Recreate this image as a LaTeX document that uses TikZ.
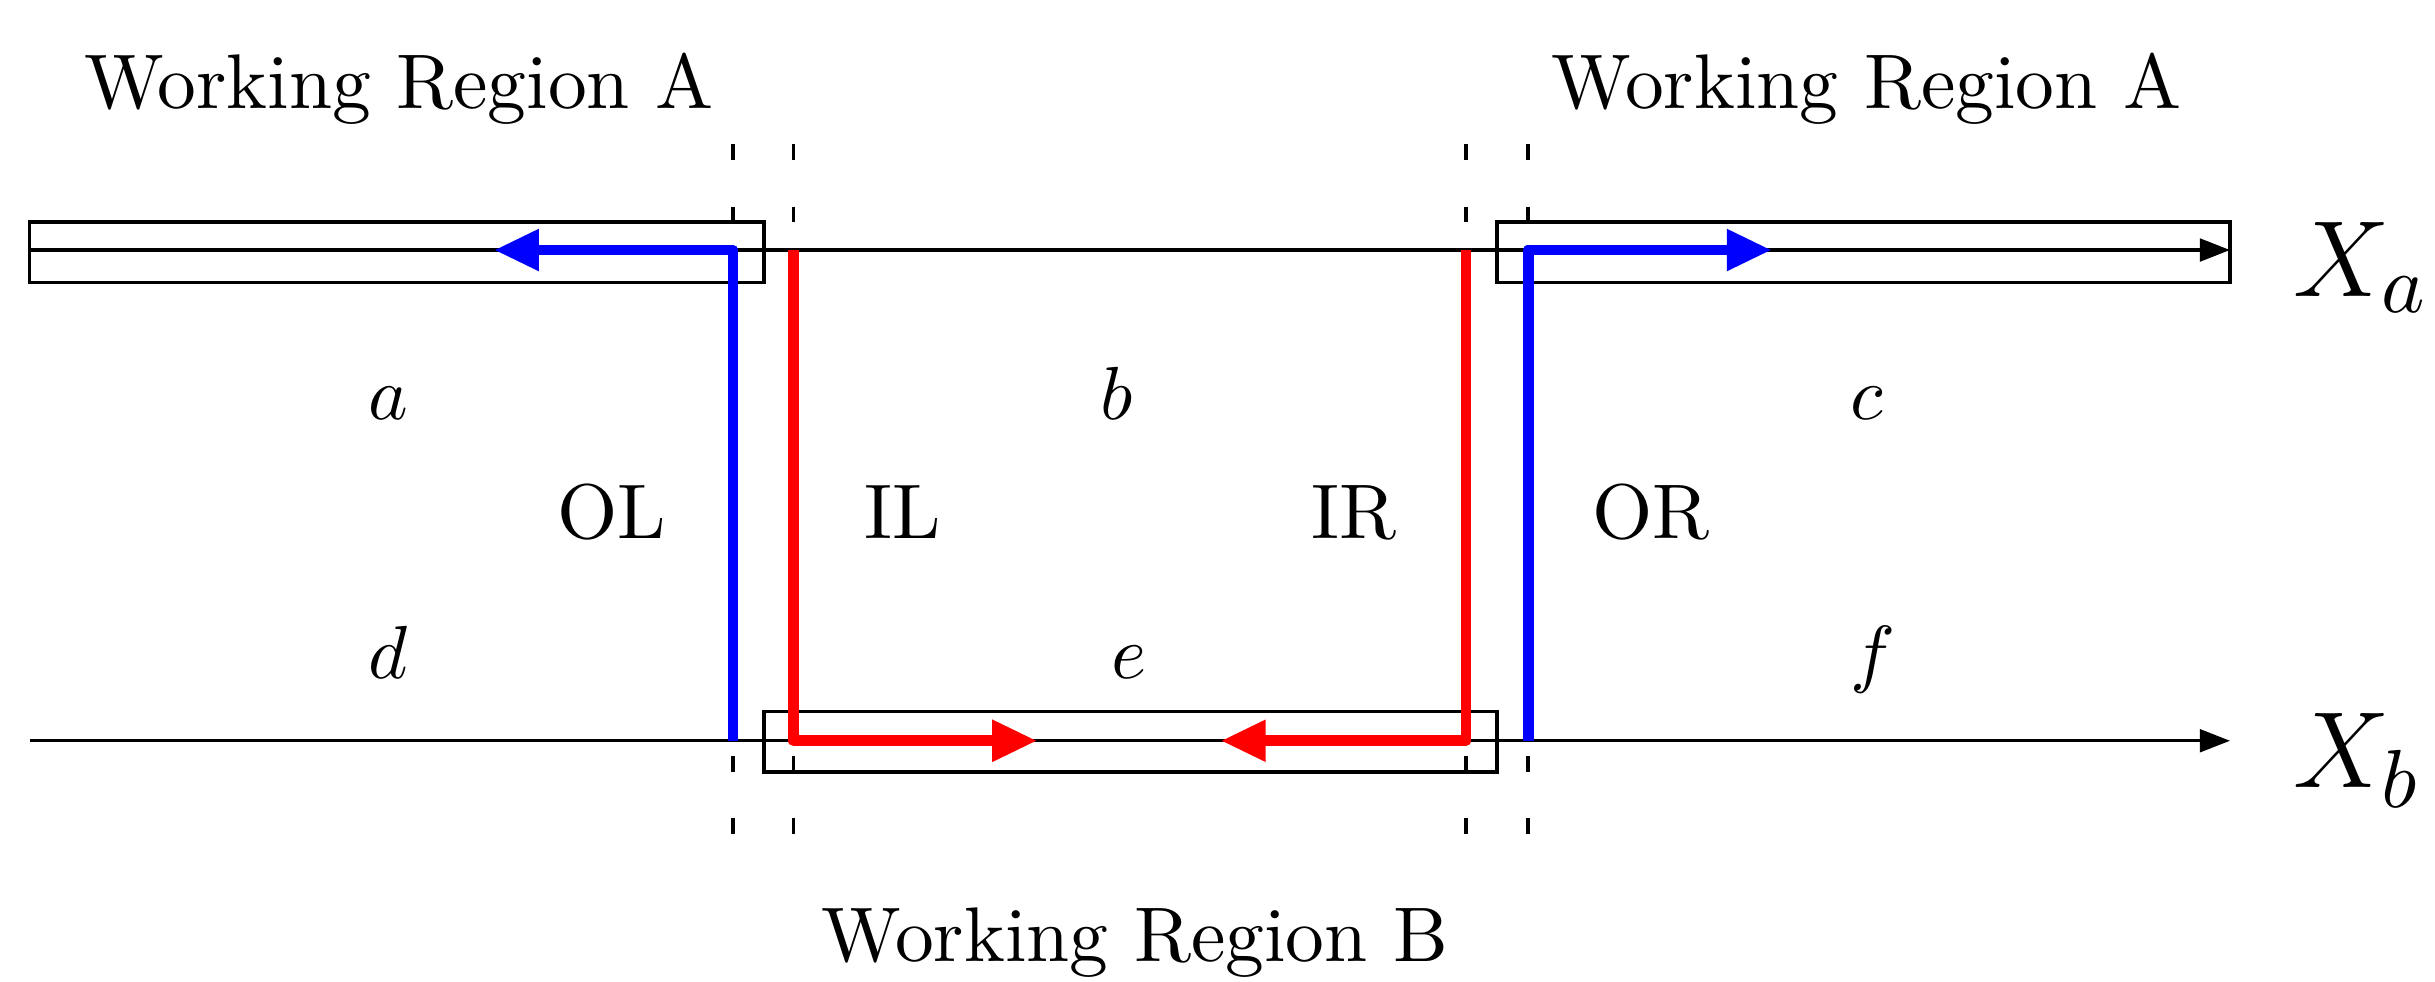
\documentclass[tikz,border=0pt]{standalone}
\usetikzlibrary{arrows.meta}
\begin{document}
\begin{tikzpicture}[x=0.2065pt,y=-0.2065pt,
  axis/.style={line width=0.45pt,-{Triangle[length=4pt,width=3pt]}},
  wbox/.style={draw,line width=0.45pt},
  guide/.style={line width=0.45pt,dash pattern=on 2.07pt off 6.2pt},
  flowblue/.style={blue,line width=1.45pt,line join=round,-{Triangle[length=6pt,width=5.2pt]}},
  flowred/.style={red,line width=1.45pt,line join=round,-{Triangle[length=6pt,width=5.2pt]}},
  lbl/.style={inner sep=0pt,anchor=base,font=\fontsize{10.3}{12.4}\selectfont},
  axlbl/.style={inner sep=0pt,anchor=base west,font=\fontsize{15}{18}\selectfont},
]
\useasboundingbox (0,0) rectangle (1568,632);
% coordinates
\coordinate (aS) at (19,161);
\coordinate (aE) at (1436,161);
\coordinate (bS) at (19,477);
\coordinate (bE) at (1436,477);
% boxes
\draw[wbox] (19,143) rectangle (492,182);
\draw[wbox] (964,143) rectangle (1436,182);
\draw[wbox] (492,458) rectangle (964,497);
% axes
\draw[axis] (aS) -- (aE);
\draw[axis] (bS) -- (bE);
% guide dashes
\foreach \gx in {472,511,944,984}{
  \draw[guide] (\gx,93) -- (\gx,143);
  \draw[guide] (\gx,537) -- (\gx,487);
}
% flow paths
\coordinate (olB) at (472,477);
\coordinate (olT) at (472,161);
\coordinate (olA) at (318,161);
\coordinate (orB) at (984,477);
\coordinate (orT) at (984,161);
\coordinate (orA) at (1141,161);
\coordinate (ilT) at (511,161);
\coordinate (ilB) at (511,477);
\coordinate (ilA) at (668,477);
\coordinate (irT) at (944,161);
\coordinate (irB) at (944,477);
\coordinate (irA) at (786,477);
\draw[flowblue] (olB) -- (olT) -- (olA);
\draw[flowblue] (orB) -- (orT) -- (orA);
\draw[flowred] (ilT) -- (ilB) -- (ilA);
\draw[flowred] (irT) -- (irB) -- (irA);
% labels
\node[lbl] (wrA1) at (257,70) {Working Region A};
\node[lbl] (wrA2) at (1202,70) {Working Region A};
\node[lbl] (wrB) at (731,619) {Working Region B};
\node[lbl] (la) at (250,270) {$a$};
\node[lbl] (lb) at (719,270) {$b$};
\node[lbl] (lc) at (1202,270) {$c$};
\node[lbl] (ld) at (250,437) {$d$};
\node[lbl] (le) at (727,437) {$e$};
\node[lbl] (lf) at (1206,437) {$f$};
\node[lbl] (OL) at (394,347) {OL};
\node[lbl] (IL) at (581,347) {IL};
\node[lbl] (IR) at (872,347) {IR};
\node[lbl] (OR) at (1063,347) {OR};
\node[axlbl] (Xa) at (1476,191) {$X_a$};
\node[axlbl] (Xb) at (1476,507) {$X_b$};
\end{tikzpicture}
\end{document}
